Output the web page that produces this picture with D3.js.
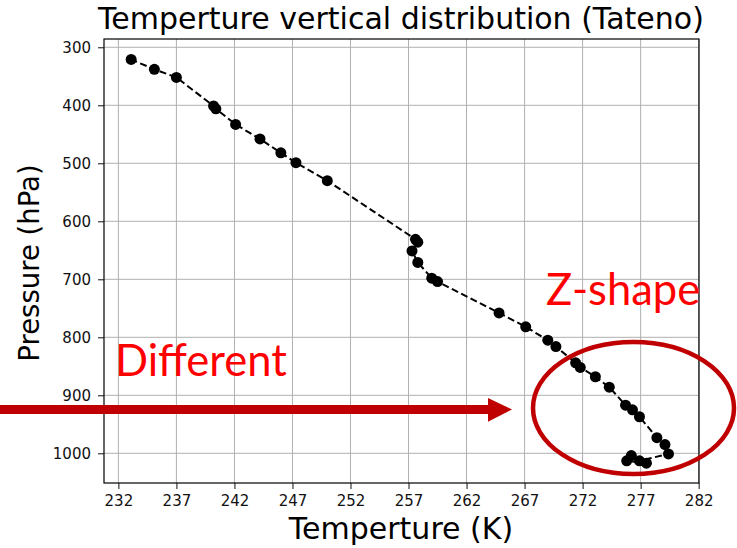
<!DOCTYPE html>
<html>
<head>
<meta charset="utf-8">
<script src="https://cdn.jsdelivr.net/npm/d3@7"></script>
<style>
  body { margin: 0; background: #fff; }
  svg { display: block; }
</style>
</head>
<body>
<svg id="chart" width="737" height="548"></svg>
<script>
// sounding at Tateno, surface first (order kept as in the profile)
const temperature = [277.5, 275.8, 276.2, 276.9, 279.4, 279.1, 278.4, 276.9, 276.3, 275.7,
  274.3, 273.1, 271.8, 271.4, 269.7, 269.0, 267.1, 264.8, 259.5, 259.0,
  257.8, 257.3, 257.8, 257.6, 250.0, 247.3, 246.0, 244.2, 242.1, 240.4,
  240.2, 237.0, 235.1, 233.1];
const pressure = [1017, 1013, 1004, 1013, 1001, 985, 973, 937, 925, 917,
  886, 868, 852, 844, 816, 805, 782, 758, 704, 698,
  671, 651, 636, 631, 530, 499, 482, 458, 433, 406,
  401, 352, 338, 321];
const xTicks = [232, 237, 242, 247, 252, 257, 262, 267, 272, 277, 282];
const yTicks = [300, 400, 500, 600, 700, 800, 900, 1000];

const data = temperature.map((t, i) => ({ t: t, p: pressure[i] }));

const svg = d3.select("#chart");
const padL = 104, padR = 699, padT = 39, padB = 483;
const font = "DejaVu Sans, sans-serif";

const x = d3.scaleLinear().domain([230.76, 282.03]).range([padL, padR]);
const y = d3.scaleLinear().domain([285.7, 1051.2]).range([padT, padB]);

// grid
svg.append("g").selectAll("line").data(xTicks).enter().append("line")
  .attr("x1", d => x(d)).attr("x2", d => x(d))
  .attr("y1", padT).attr("y2", padB)
  .attr("stroke", "#b0b0b0").attr("stroke-width", 1);
svg.append("g").selectAll("line").data(yTicks).enter().append("line")
  .attr("x1", padL).attr("x2", padR)
  .attr("y1", d => y(d)).attr("y2", d => y(d))
  .attr("stroke", "#b0b0b0").attr("stroke-width", 1);

// axes
const xAxis = svg.append("g")
  .attr("transform", "translate(0," + padB + ")")
  .call(d3.axisBottom(x).tickValues(xTicks).tickSize(6).tickPadding(6).tickFormat(d3.format("d")));
const yAxis = svg.append("g")
  .attr("transform", "translate(" + padL + ",0)")
  .call(d3.axisLeft(y).tickValues(yTicks).tickSize(6).tickPadding(7).tickFormat(d3.format("d")));
[xAxis, yAxis].forEach(a => {
  a.select(".domain").remove();
  a.selectAll("text").attr("font-family", font).attr("font-size", 15).attr("fill", "#111");
  a.selectAll("line").attr("stroke", "#111");
});

// frame
svg.append("rect")
  .attr("x", padL).attr("y", padT)
  .attr("width", padR - padL).attr("height", padB - padT)
  .attr("fill", "none").attr("stroke", "#000").attr("stroke-width", 1.2);

// profile
const line = d3.line().x(d => x(d.t)).y(d => y(d.p));
svg.append("path")
  .datum(data)
  .attr("d", line)
  .attr("fill", "none")
  .attr("stroke", "#000")
  .attr("stroke-width", 2)
  .attr("stroke-dasharray", "7,3.5");
svg.append("g").selectAll("circle").data(data).enter().append("circle")
  .attr("cx", d => x(d.t)).attr("cy", d => y(d.p))
  .attr("r", 5.5).attr("fill", "#000");

// titles
svg.append("text").text("Temperture vertical distribution (Tateno)")
  .attr("x", 401).attr("y", 29).attr("text-anchor", "middle")
  .attr("font-family", font).attr("font-size", 30).attr("fill", "#000");
svg.append("text").text("Temperture (K)")
  .attr("x", 401).attr("y", 539).attr("text-anchor", "middle")
  .attr("font-family", font).attr("font-size", 30).attr("fill", "#000");
svg.append("text").text("Pressure (hPa)")
  .attr("transform", "translate(39,263) rotate(-90)")
  .attr("text-anchor", "middle")
  .attr("font-family", font).attr("font-size", 27.5).attr("fill", "#000");

// annotations
const dark = "#c00000";
svg.append("ellipse")
  .attr("cx", 633.5).attr("cy", 408).attr("rx", 100.5).attr("ry", 66)
  .attr("fill", "none").attr("stroke", dark).attr("stroke-width", 4.5);
svg.append("rect")
  .attr("x", 0).attr("y", 405).attr("width", 490).attr("height", 9)
  .attr("fill", dark);
svg.append("path")
  .attr("d", "M488,398 L512,409.5 L488,421.7 Z")
  .attr("fill", dark);
svg.append("text").text("Different")
  .attr("x", 115).attr("y", 376)
  .attr("font-family", "Lato, sans-serif").attr("font-size", 43.5).attr("fill", "#ff0000");
svg.append("text").text("Z-shape")
  .attr("x", 546).attr("y", 305)
  .attr("font-family", "Lato, sans-serif").attr("font-size", 43.5).attr("fill", "#ff0000");
</script>
</body>
</html>
